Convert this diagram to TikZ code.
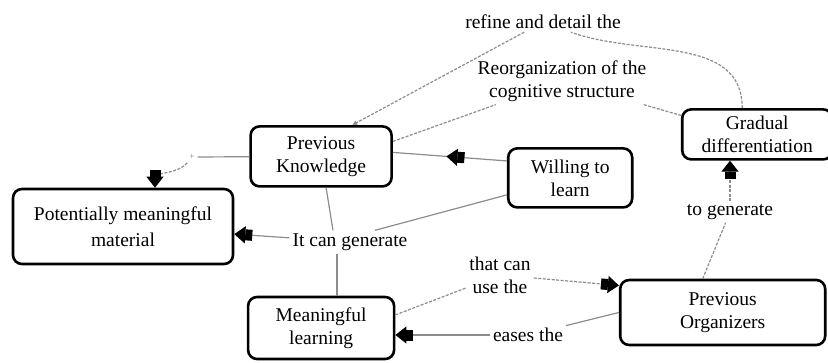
\documentclass[tikz,border=0pt]{standalone}
\usepackage{fontspec}
\setmainfont{Liberation Serif}
\usetikzlibrary{arrows.meta,positioning,calc,decorations.markings}
\newcommand{\mapfont}{\fontsize{19.5}{23}\selectfont}
\tikzset{
  concept/.style={draw, line width=2.6pt, rounded corners=9pt, align=center, fill=white, font=\mapfont},
  phrase/.style={align=center, inner sep=3pt, font=\mapfont},
  link/.style={draw=black!45, line width=1.2pt},
  dlink/.style={link, dash pattern=on 3pt off 1.5pt},
  arrow/.style={-{Rectangle[length=7pt,width=11pt,black]Triangle[length=11pt,width=17pt,black]}},
  midarrow/.style={postaction={decorate}, decoration={markings, mark=at position #1 with {\arrow{Rectangle[length=7pt,width=11pt,black]Triangle[length=11pt,width=17pt,black]}}}}
}

\begin{document}
\begin{tikzpicture}[x=1pt, y=1pt, node distance=20pt]
  \useasboundingbox (0,0) rectangle (828,362);
  % concepts
  \node[concept, minimum width=220pt, minimum height=75pt] (pmm) at (123,135.5) {Potentially meaningful\\[3pt]material};
  \node[concept, above right=0pt and 15pt of pmm, minimum width=141pt, minimum height=60pt] (pk) {Previous\\Knowledge};
  \node[concept, right=114pt of pk, yshift=-21.5pt, minimum width=124pt, minimum height=59pt] (wtl) {Willing to\\learn};
  \node[concept, below=108pt of pk, minimum width=146pt, minimum height=62pt] (ml) {Meaningful\\learning};
  \node[concept, right=223.5pt of ml, yshift=15.5pt, minimum width=205pt, minimum height=65pt] (po) {Previous\\Organizers};
  \node[concept, above=118pt of po, xshift=34.5pt, minimum width=150pt, minimum height=50pt] (gd) {Gradual\\differentiation};

  % linking phrases
  \node[phrase] (gen) at (350,120) {It can generate};
  \node[phrase, font=\small, text=black!50] (plus) at (192,205) {+};
  \node[phrase] (refine) at (543,340) {refine and detail the};
  \node[phrase] (reorg) at (562,281) {Reorganization of the\\cognitive structure};
  \node[phrase] (tgen) at (730,150) {to generate};
  \node[phrase] (usethe) at (500,87) {that can\\use the};
  \node[phrase] (eases) at (528,27) {eases the};

  \path ([xshift=-13pt]gen.south) coordinate (gfoot);

  \draw[link] (pk) -- (plus);
  \draw[dlink, arrow] (plus) to[out=-130, in=90] ([xshift=32pt]pmm.north);
  \draw[link] ([xshift=5pt]pk.south) -- ([xshift=-17pt]gen.north);
  \draw[link, arrow] (gen) -- (pmm);
  \draw[link] (gfoot) -- (gfoot |- ml.north);
  \draw[link] (wtl.195) -- ([xshift=25pt]gen.north);
  \draw[link, midarrow=0.53] (wtl.165) -- ([yshift=4pt]pk.east);
  \draw[dlink] ([xshift=-15pt]gd.north) to[out=90, in=-20] (refine);
  \draw[dlink, -{Latex[length=5pt,width=5pt]}] (refine) -- ([xshift=31pt]pk.north);
  \draw[dlink] ([yshift=15pt]pk.east) -- (reorg);
  \draw[dlink] (reorg) -- ([yshift=19pt]gd.west);
  \draw[dlink] (ml.10) -- (usethe);
  \draw[dlink, arrow] (usethe) -- ([yshift=27pt]po.west);
  \draw[link] (po.west) -- (eases);
  \draw[link, arrow] (eases) -- (eases -| ml.east);
  \draw[dlink] ([xshift=-20pt]po.north) -- (tgen);
  \draw[dlink, arrow] (tgen) -- (tgen |- gd.south);
\end{tikzpicture}
\end{document}
